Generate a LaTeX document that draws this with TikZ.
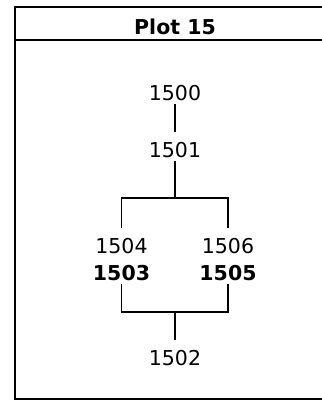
\documentclass[tikz,border=0pt]{standalone}
\usepackage{fontspec}
\setmainfont{DejaVu Sans}
\begin{document}
\begin{tikzpicture}[x=1pt, y=-1pt]
		\tikzset{vertex/.style = {anchor=base, inner sep=0pt, text height=25pt, text depth=4pt, font=\fontsize{20.5}{25}\selectfont}}
		\tikzset{boldvertex/.style = {vertex, font=\fontsize{20.5}{25}\selectfont\bfseries}}
		\tikzset{edge/.style = {line width=1.8pt}}
		
		\useasboundingbox (0,0) rectangle (322,400);
		\clip (0,0) rectangle (322,400);
		
		% frame and title
		\draw[edge] (15,7) rectangle (335,399);
		\draw[edge] (15,40) -- (335,40);
		\node[boldvertex, text height=, text depth=] (title) at (175,34.3) {Plot 15};
		
		\node[vertex]      (1500) at (175,100) {1500};
		\node[vertex]      (1501) at (175,157) {1501};
		\node[vertex]      (1504) at (121.5,253) {1504};
		\node[vertex]      (1506) at (228,253) {1506};
		\node[boldvertex]  (1503) at (121.5,280) {1503};
		\node[boldvertex]  (1505) at (228,280) {1505};
		\node[vertex]      (1502) at (175,365) {1502};
		
		\coordinate (top) at (175,198);
		\coordinate (bottom) at (175,312);
		
		\draw[edge] (1500) to (1501);
		\draw[edge] (1501) to (top);
		\draw[edge] (1504.north) |- (top) -| (1506.north);
		\draw[edge] (1503.south) |- (bottom) -| (1505.south);
		\draw[edge] (bottom) to (1502);
\end{tikzpicture}
\end{document}
